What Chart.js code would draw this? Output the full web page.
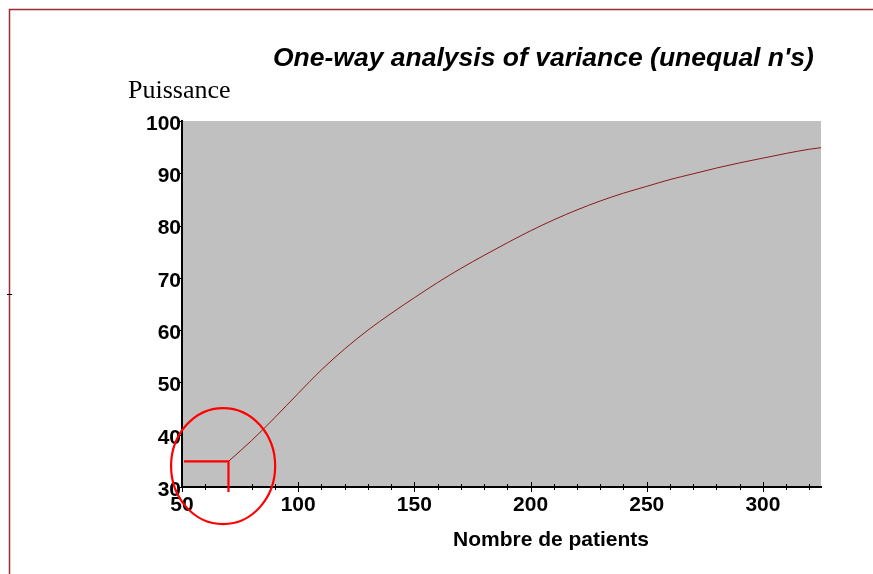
<!DOCTYPE html>
<html><head><meta charset="utf-8">
<script src="https://cdn.jsdelivr.net/npm/chart.js@4.4.0/dist/chart.umd.min.js"></script>
<style>html,body{margin:0;padding:0;background:#fff;overflow:hidden}canvas{display:block}</style>
</head><body>
<canvas id="c" width="873" height="574"></canvas>
<script>
// ---- data ----
const chartTitle = "One-way analysis of variance (unequal n's)";
const yAxisLabel = "Puissance";
const xAxisLabel = "Nombre de patients";
const patients  = [70, 80, 90, 100, 110, 120, 130, 140, 150, 160, 170, 180, 190, 200, 210, 220, 230, 240, 250, 260, 270, 280, 290, 300, 310, 320, 325];
const puissance = [34.9, 38.9, 43.3, 47.9, 52.4, 56.4, 60.0, 63.2, 66.2, 69.1, 71.8, 74.3, 76.7, 79.0, 81.1, 83.0, 84.7, 86.2, 87.5, 88.8, 89.9, 91.0, 92.0, 92.9, 93.8, 94.6, 94.9];
const xTickValues = [50, 100, 150, 200, 250, 300];
const yTickValues = [30, 40, 50, 60, 70, 80, 90, 100];
const xRange = [50, 325];
const yRange = [30, 100];
// highlighted point (n = 70, power ≈ 35) and its circle (in data units)
const markerPoint = [70, 34.9];
const circleCenter = [67.7, 34.0];
const circleRadii = [22.4, 11.1];

const sansBold = '"Liberation Sans", Arial, sans-serif';

const decor = {
  id: 'decor',
  beforeDraw(chart) {
    const {ctx, chartArea: a} = chart;
    ctx.save();
    ctx.fillStyle = '#ffffff';
    ctx.fillRect(0, 0, chart.width, chart.height);
    // frame lines
    ctx.strokeStyle = '#9b2d30';
    ctx.lineWidth = 1.5;
    ctx.beginPath();
    ctx.moveTo(9.5, chart.height); ctx.lineTo(9.5, 9.5); ctx.lineTo(chart.width, 9.5);
    ctx.stroke();
    ctx.strokeStyle = '#000'; ctx.lineWidth = 1;
    ctx.beginPath(); ctx.moveTo(7, 294.5); ctx.lineTo(12, 294.5); ctx.stroke();
    // plot background
    ctx.fillStyle = '#c0c0c0';
    ctx.fillRect(a.left, a.top, a.right - a.left, a.bottom - a.top);
    ctx.restore();
  },
  afterDraw(chart) {
    const {ctx, chartArea: a} = chart;
    const xs = chart.scales.x, ys = chart.scales.y;
    ctx.save();
    // tick marks
    ctx.strokeStyle = '#000'; ctx.lineWidth = 1;
    xs.ticks.forEach(t => {
      const px = Math.round(xs.getPixelForValue(t.value)) + 0.5;
      const major = xTickValues.includes(t.value);
      const h = major ? 5 : 3;
      ctx.beginPath(); ctx.moveTo(px, a.bottom - h); ctx.lineTo(px, a.bottom + h); ctx.stroke();
    });
    ys.ticks.forEach(t => {
      const py = Math.round(ys.getPixelForValue(t.value)) + 0.5;
      ctx.beginPath(); ctx.moveTo(a.left - 4, py); ctx.lineTo(a.left, py); ctx.stroke();
    });
    // annotation
    const mx = xs.getPixelForValue(markerPoint[0]);
    const my = ys.getPixelForValue(markerPoint[1]);
    ctx.strokeStyle = '#ff0000';
    ctx.lineWidth = 2.2;
    ctx.beginPath();
    ctx.moveTo(a.left + 2, my); ctx.lineTo(mx, my); ctx.lineTo(mx, a.bottom + 5);
    ctx.stroke();
    const cx = xs.getPixelForValue(circleCenter[0]);
    const cy = ys.getPixelForValue(circleCenter[1]);
    const rx = xs.getPixelForValue(circleCenter[0] + circleRadii[0]) - cx;
    const ry = cy - ys.getPixelForValue(circleCenter[1] + circleRadii[1]);
    ctx.beginPath(); ctx.ellipse(cx, cy, rx, ry, 0, 0, Math.PI * 2); ctx.stroke();
    // texts
    ctx.fillStyle = '#000';
    ctx.textBaseline = 'alphabetic';
    ctx.textAlign = 'left';
    ctx.font = 'italic bold 26.5px ' + sansBold;
    ctx.fillText(chartTitle, 273, 66);
    ctx.font = '26px "Liberation Serif", "Times New Roman", serif';
    ctx.fillText(yAxisLabel, 128, 98);
    ctx.textAlign = 'center';
    ctx.font = 'bold 21px ' + sansBold;
    ctx.fillText(xAxisLabel, 551, 546);
    ctx.restore();
  }
};

new Chart(document.getElementById('c'), {
  type: 'line',
  data: {
    datasets: [{
      data: patients.map((n, i) => ({x: n, y: puissance[i]})),
      borderColor: '#8b1a1a',
      borderWidth: 1,
      pointRadius: 0,
      cubicInterpolationMode: 'monotone',
      fill: false
    }]
  },
  options: {
    responsive: false,
    animation: false,
    events: [],
    layout: {padding: {left: 0, top: 121, right: 52, bottom: 0}},
    plugins: {legend: {display: false}, tooltip: {enabled: false}, title: {display: false}},
    scales: {
      x: {
        type: 'linear', min: xRange[0], max: xRange[1],
        grid: {display: false, drawTicks: false},
        border: {display: true, color: '#000', width: 2},
        ticks: {
          stepSize: 10, includeBounds: false, autoSkip: false, maxRotation: 0,
          padding: 6, color: '#000',
          font: {family: sansBold, size: 21, weight: 'bold'},
          callback: v => xTickValues.includes(v) ? String(v) : ''
        },
        afterFit: s => { s.height = 87; }
      },
      y: {
        type: 'linear', min: yRange[0], max: yRange[1],
        grid: {display: false, drawTicks: false},
        border: {display: true, color: '#000', width: 2},
        ticks: {
          stepSize: 10, autoSkip: false, padding: 1, labelOffset: 3, color: '#000',
          font: {family: sansBold, size: 21, weight: 'bold'},
          callback: v => yTickValues.includes(v) ? String(v) : ''
        },
        afterFit: s => { s.width = 182; }
      }
    }
  },
  plugins: [decor]
});
</script>
</body></html>
